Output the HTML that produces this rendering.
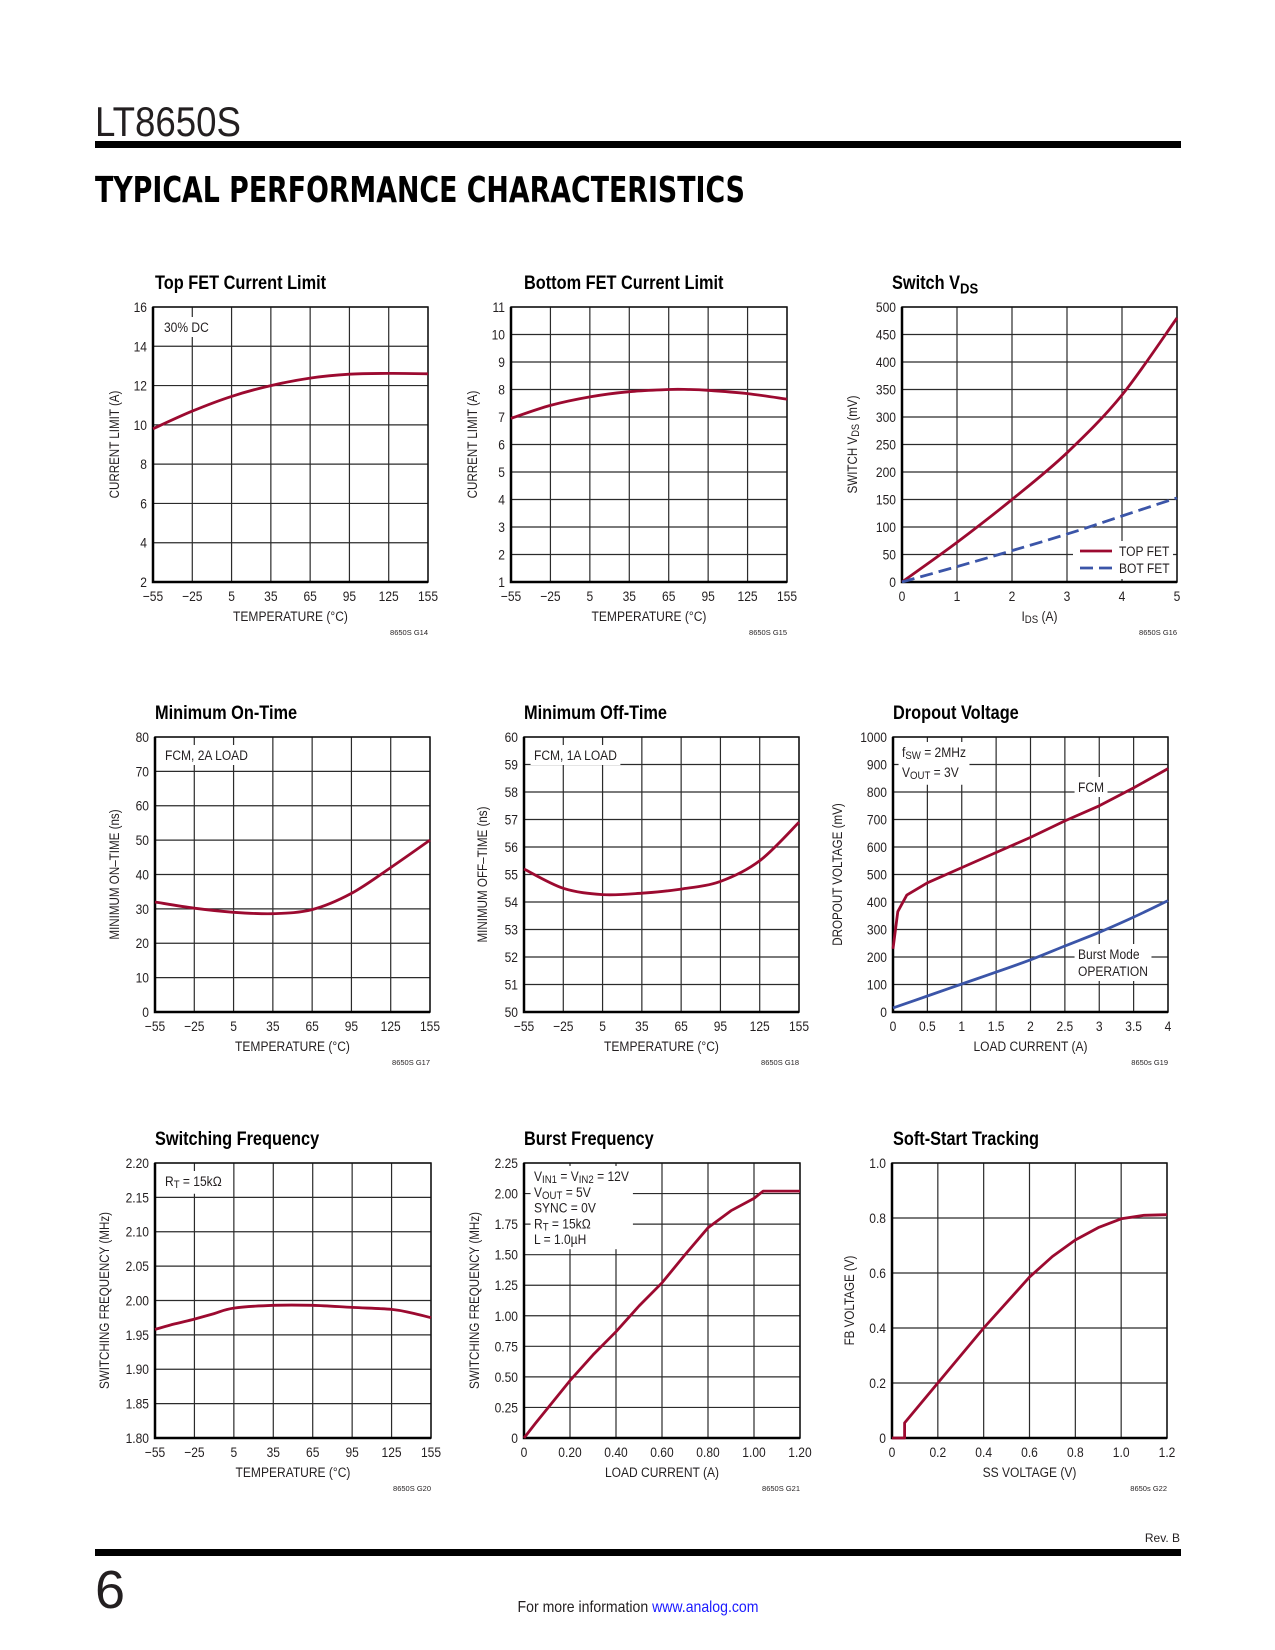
<!DOCTYPE html>
<html><head><meta charset="utf-8"><style>
html,body{margin:0;padding:0;background:#fff}
svg{display:block}
text{font-family:"Liberation Sans Narrow","Liberation Sans",sans-serif;fill:#231f20}
</style></head><body>
<svg id="page" width="1275" height="1650" viewBox="0 0 1275 1650" xmlns="http://www.w3.org/2000/svg">
<rect x="0" y="0" width="1275" height="1650" fill="#fff"/>
<text x="95" y="136" font-size="42" textLength="146" lengthAdjust="spacingAndGlyphs" style="font-weight:300">LT8650S</text>
<rect x="95" y="141" width="1086" height="7" fill="#000"/>
<text x="95" y="202" font-size="36" font-weight="bold" textLength="650" lengthAdjust="spacingAndGlyphs" style="font-family:'DejaVu Sans',sans-serif;font-weight:900;fill:#000">TYPICAL PERFORMANCE CHARACTERISTICS</text>
<text x="1180" y="1542" font-size="12" text-anchor="end">Rev. B</text>
<rect x="95" y="1549" width="1086" height="7" fill="#000"/>
<text x="95" y="1608" font-size="54" style="font-weight:300">6</text>
<text x="638" y="1612" font-size="16" text-anchor="middle" transform="translate(638,0) scale(0.88,1) translate(-638,0)">For more information <tspan fill="#1a1aff" style="fill:#1a1aff">www.analog.com</tspan></text>
<g id="charts"></g>
</svg>
<script>
// ---- chart data ----
const tempX = [-55, -25, 5, 35, 65, 95, 125, 155];
const tempTickLabels = ["\u221255", "\u221225", "5", "35", "65", "95", "125", "155"];

const topFetTemp = [-55, -25, 5, 35, 65, 95, 125, 155];
const topFetLimit = [9.8, 10.7, 11.45, 12.0, 12.38, 12.58, 12.62, 12.6];
const topFetYTicks = [2, 4, 6, 8, 10, 12, 14, 16];

const botFetTemp = [-55, -25, 5, 35, 65, 80, 95, 125, 155];
const botFetLimit = [6.95, 7.42, 7.73, 7.92, 8.0, 8.0, 7.97, 7.85, 7.65];
const botFetYTicks = [1, 2, 3, 4, 5, 6, 7, 8, 9, 10, 11];

const vdsCurrent = [0, 1, 2, 3, 4, 5];
const vdsTop = [0, 72, 150, 235, 340, 480];
const vdsBot = [0, 28, 57, 87, 120, 153];
const vdsXTicks = [0, 1, 2, 3, 4, 5];
const vdsYTicks = [0, 50, 100, 150, 200, 250, 300, 350, 400, 450, 500];

const onTimeTemp = [-55, -25, 5, 35, 65, 95, 125, 155];
const onTimeVal = [32, 30.2, 29, 28.6, 29.8, 34.5, 42, 50];
const onTimeYTicks = [0, 10, 20, 30, 40, 50, 60, 70, 80];

const offTimeTemp = [-55, -25, 5, 35, 65, 95, 125, 155];
const offTimeVal = [55.2, 54.5, 54.27, 54.32, 54.47, 54.75, 55.5, 56.9];
const offTimeYTicks = [50, 51, 52, 53, 54, 55, 56, 57, 58, 59, 60];

const dropFcmX = [0, 0.07, 0.2, 0.5, 1, 1.5, 2, 2.5, 3, 3.5, 4];
const dropFcmY = [230, 365, 425, 470, 525, 580, 635, 695, 750, 815, 885];
const dropBurstX = [0, 0.5, 1, 1.5, 2, 2.5, 3, 3.5, 4];
const dropBurstY = [15, 58, 102, 145, 190, 240, 290, 345, 405];
const dropXTicks = [0, 0.5, 1, 1.5, 2, 2.5, 3, 3.5, 4];
const dropXLabels = ["0", "0.5", "1", "1.5", "2", "2.5", "3", "3.5", "4"];
const dropYTicks = [0, 100, 200, 300, 400, 500, 600, 700, 800, 900, 1000];

const swTemp = [-55, -40, -25, -10, 5, 35, 65, 95, 125, 140, 155];
const swFreq = [1.958, 1.966, 1.973, 1.981, 1.989, 1.993, 1.993, 1.99, 1.987, 1.982, 1.975];
const swYTicks = [1.80, 1.85, 1.90, 1.95, 2.00, 2.05, 2.10, 2.15, 2.20];
const swYLabels = ["1.80", "1.85", "1.90", "1.95", "2.00", "2.05", "2.10", "2.15", "2.20"];

const burstLoad = [0, 0.05, 0.2, 0.3, 0.4, 0.5, 0.6, 0.7, 0.8, 0.9, 1.0, 1.04, 1.2];
const burstFreq = [0, 0.12, 0.47, 0.68, 0.87, 1.08, 1.27, 1.5, 1.72, 1.86, 1.96, 2.02, 2.02];
const burstXTicks = [0, 0.2, 0.4, 0.6, 0.8, 1.0, 1.2];
const burstXLabels = ["0", "0.20", "0.40", "0.60", "0.80", "1.00", "1.20"];
const burstYTicks = [0, 0.25, 0.5, 0.75, 1.0, 1.25, 1.5, 1.75, 2.0, 2.25];
const burstYLabels = ["0", "0.25", "0.50", "0.75", "1.00", "1.25", "1.50", "1.75", "2.00", "2.25"];

const ssX = [0, 0.055, 0.055, 0.2, 0.4, 0.6, 0.7, 0.8, 0.9, 1.0, 1.1, 1.2];
const ssY = [0, 0, 0.055, 0.2, 0.4, 0.585, 0.66, 0.72, 0.765, 0.797, 0.81, 0.812];
const ssXTicks = [0, 0.2, 0.4, 0.6, 0.8, 1.0, 1.2];
const ssXLabels = ["0", "0.2", "0.4", "0.6", "0.8", "1.0", "1.2"];
const ssYTicks = [0, 0.2, 0.4, 0.6, 0.8, 1.0];
const ssYLabels = ["0", "0.2", "0.4", "0.6", "0.8", "1.0"];

// ---- drawing ----
const NS = "http://www.w3.org/2000/svg";
const root = document.getElementById('charts');
const RED = "#9c0a30", BLUE = "#3b55a8", GRID = "#2b2b2b";
const SQ = 0.86;
function mk(tag, parent) { const e = document.createElementNS(NS, tag); parent.appendChild(e); return e; }
function squeeze(t, x, extra) { t.setAttribute('transform', `translate(${x},0) scale(${SQ},1) translate(${-x},0)` + (extra || '')); }
function rich(t, parts) {
  parts.forEach(p => {
    const s = document.createElementNS(NS, 'tspan');
    s.textContent = p[0];
    if (p[1] === 'sub') { s.setAttribute('baseline-shift', '-25%'); s.setAttribute('font-size', '80%'); }
    t.appendChild(s);
  });
}
function chart(name, L, T, W, H, xd, xt, xl, yd, yt, yl, title, xTitle, yTitle, yOff, code) {
  const g = mk('g', root);
  
  
  const sx = v => L + (v - xd[0]) / (xd[1] - xd[0]) * W;
  const sy = v => T + H - (v - yd[0]) / (yd[1] - yd[0]) * H;
  const grid = mk('g', g);
  
  
  xt.forEach(v => { const l = mk('line', grid); l.setAttribute('x1', sx(v)); l.setAttribute('x2', sx(v)); l.setAttribute('y1', T); l.setAttribute('y2', T + H); l.setAttribute('stroke', GRID); l.setAttribute('stroke-width', 1.2); });
  yt.forEach(v => { const l = mk('line', grid); l.setAttribute('x1', L); l.setAttribute('x2', L + W); l.setAttribute('y1', sy(v)); l.setAttribute('y2', sy(v)); l.setAttribute('stroke', GRID); l.setAttribute('stroke-width', 1.2); });
  const fr = mk('rect', g); fr.setAttribute('x', L); fr.setAttribute('y', T); fr.setAttribute('width', W); fr.setAttribute('height', H); fr.setAttribute('fill', 'none'); fr.setAttribute('stroke', '#111'); fr.setAttribute('stroke-width', 1.5);
  
  
  const ax = mk('path', g); ax.setAttribute('d', `M${L},${T} V${T + H} H${L + W}`); ax.setAttribute('fill', 'none'); ax.setAttribute('stroke', '#000'); ax.setAttribute('stroke-width', 2.5);
  
  
  xt.forEach((v, i) => { const t = mk('text', g); t.setAttribute('x', sx(v)); t.setAttribute('y', T + H + 19); t.setAttribute('font-size', 14); t.setAttribute('text-anchor', 'middle'); t.textContent = xl[i]; squeeze(t, sx(v));
    
     });
  yt.forEach((v, i) => { const t = mk('text', g); t.setAttribute('x', L - 6); t.setAttribute('y', sy(v) + 5); t.setAttribute('font-size', 14); t.setAttribute('text-anchor', 'end'); t.textContent = yl[i]; squeeze(t, L - 6);
    
     });
  const tx = L + (title[1] || 0);
  const tt = mk('text', g); tt.setAttribute('x', tx); tt.setAttribute('y', T - 18); tt.setAttribute('font-size', 19); tt.setAttribute('font-weight', 'bold'); tt.style.fill = '#000'; rich(tt, title[0]); squeeze(tt, tx);
  
  
  const xtT = mk('text', g); xtT.setAttribute('x', L + W / 2); xtT.setAttribute('y', T + H + 39); xtT.setAttribute('font-size', 14); xtT.setAttribute('text-anchor', 'middle'); rich(xtT, xTitle); squeeze(xtT, L + W / 2);
  
  
  const ytT = mk('text', g); const cx = L - yOff, cy = T + H / 2; ytT.setAttribute('x', cx); ytT.setAttribute('y', cy); ytT.setAttribute('font-size', 13.5); ytT.setAttribute('text-anchor', 'middle'); ytT.setAttribute('transform', `rotate(-90 ${cx} ${cy}) translate(${cx},0) scale(${SQ},1) translate(${-cx},0)`); rich(ytT, yTitle);
  
  
  const cd = mk('text', g); cd.setAttribute('x', L + W); cd.setAttribute('y', T + H + 53); cd.setAttribute('font-size', 7.5); cd.setAttribute('text-anchor', 'end'); cd.textContent = code;
  
  
  return { g, sx, sy, L, T, W, H };
}
function series(c, xs, ys, color, dash, name, smooth) {
  const pts = xs.map((x, i) => [c.sx(x), c.sy(ys[i])]);
  let d = 'M' + pts[0][0].toFixed(1) + ',' + pts[0][1].toFixed(1);
  for (let i = 0; i < pts.length - 1; i++) {
    if (smooth) {
      const p0 = pts[Math.max(0, i - 1)], p1 = pts[i], p2 = pts[i + 1], p3 = pts[Math.min(pts.length - 1, i + 2)];
      const c1x = p1[0] + (p2[0] - p0[0]) / 6, c1y = p1[1] + (p2[1] - p0[1]) / 6;
      const c2x = p2[0] - (p3[0] - p1[0]) / 6, c2y = p2[1] - (p3[1] - p1[1]) / 6;
      d += ` C${c1x.toFixed(1)},${c1y.toFixed(1)} ${c2x.toFixed(1)},${c2y.toFixed(1)} ${p2[0].toFixed(1)},${p2[1].toFixed(1)}`;
    } else d += ' L' + pts[i + 1][0].toFixed(1) + ',' + pts[i + 1][1].toFixed(1);
  }
  const p = mk('path', c.g);
  p.setAttribute('d', d);
  p.setAttribute('fill', 'none'); p.setAttribute('stroke', color); p.setAttribute('stroke-width', 2.8); p.setAttribute('stroke-linejoin', 'round');
  if (dash) p.setAttribute('stroke-dasharray', '13,6');
  
  
}
function note(c, lines, dx, dy, lh, name) {
  const g = mk('g', c.g);
  
  
  const bg = mk('rect', g); bg.setAttribute('fill', '#fff');
  const x = c.L + dx;
  const ts = lines.map((ln, i) => { const t = mk('text', g); t.setAttribute('x', x); t.setAttribute('y', c.T + dy + i * lh); t.setAttribute('font-size', 14); rich(t, ln); return t; });
  let x0 = 1e9, y0 = 1e9, x1 = -1e9, y1 = -1e9;
  ts.forEach(t => { const b = t.getBBox(); x0 = Math.min(x0, b.x); y0 = Math.min(y0, b.y); x1 = Math.max(x1, b.x + b.width); y1 = Math.max(y1, b.y + b.height); });
  bg.setAttribute('x', x0 - 4); bg.setAttribute('y', y0 - 2); bg.setAttribute('width', x1 - x0 + 8); bg.setAttribute('height', y1 - y0 + 4);
  g.setAttribute('transform', `translate(${x},0) scale(${SQ},1) translate(${-x},0)`);
}
const TX = [['TEMPERATURE (\u00B0C)']];
const nums = a => a.map(String);

let c1 = chart('top-fet-current-limit-chart', 153, 307, 275, 275, [-55, 155], tempX, tempTickLabels, [2, 16], topFetYTicks, nums(topFetYTicks), [[['Top FET Current Limit']], 2], TX, [['CURRENT LIMIT (A)']], 34, '8650S G14');
note(c1, [[['30% DC']]], 11, 25, 16, 'condition-note');
series(c1, topFetTemp, topFetLimit, RED, false, 'current-limit-curve', true);

let c2 = chart('bottom-fet-current-limit-chart', 511, 307, 276, 275, [-55, 155], tempX, tempTickLabels, [1, 11], botFetYTicks, nums(botFetYTicks), [[['Bottom FET Current Limit']], 13], TX, [['CURRENT LIMIT (A)']], 34, '8650S G15');
series(c2, botFetTemp, botFetLimit, RED, false, 'current-limit-curve', true);

let c3 = chart('switch-vds-chart', 902, 307, 275, 275, [0, 5], vdsXTicks, nums(vdsXTicks), [0, 500], vdsYTicks, nums(vdsYTicks), [[['Switch V'], ['DS', 'sub']], -10], [['I'], ['DS', 'sub'], [' (A)']], [['SWITCH V'], ['DS', 'sub'], [' (mV)']], 45, '8650S G16');
series(c3, vdsCurrent, vdsTop, RED, false, 'top-fet-line', true);
series(c3, vdsCurrent, vdsBot, BLUE, true, 'bot-fet-line', true);
(function () {
  const g = mk('g', c3.g);
  
  
  const r = mk('rect', g); r.setAttribute('x', 1073); r.setAttribute('y', 541); r.setAttribute('width', 100); r.setAttribute('height', 38); r.setAttribute('fill', '#fff');
  const l1 = mk('line', g); l1.setAttribute('x1', 1080); l1.setAttribute('x2', 1112); l1.setAttribute('y1', 551); l1.setAttribute('y2', 551); l1.setAttribute('stroke', RED); l1.setAttribute('stroke-width', 2.8);
  
  
  const l2 = mk('line', g); l2.setAttribute('x1', 1080); l2.setAttribute('x2', 1112); l2.setAttribute('y1', 568); l2.setAttribute('y2', 568); l2.setAttribute('stroke', BLUE); l2.setAttribute('stroke-width', 2.8); l2.setAttribute('stroke-dasharray', '13,6');
  
  
  const t1 = mk('text', g); t1.setAttribute('x', 1119); t1.setAttribute('y', 556); t1.setAttribute('font-size', 14); t1.textContent = 'TOP FET'; squeeze(t1, 1119);
  const t2 = mk('text', g); t2.setAttribute('x', 1119); t2.setAttribute('y', 573); t2.setAttribute('font-size', 14); t2.textContent = 'BOT FET'; squeeze(t2, 1119);
})();

let c4 = chart('minimum-on-time-chart', 155, 737, 275, 275, [-55, 155], tempX, tempTickLabels, [0, 80], onTimeYTicks, nums(onTimeYTicks), [[['Minimum On-Time']], 0], TX, [['MINIMUM ON\u2013TIME (ns)']], 36, '8650S G17');
note(c4, [[['FCM, 2A LOAD']]], 10, 23, 16, 'condition-note');
series(c4, onTimeTemp, onTimeVal, RED, false, 'on-time-curve', true);

let c5 = chart('minimum-off-time-chart', 524, 737, 275, 275, [-55, 155], tempX, tempTickLabels, [50, 60], offTimeYTicks, nums(offTimeYTicks), [[['Minimum Off-Time']], 0], TX, [['MINIMUM OFF\u2013TIME (ns)']], 37, '8650S G18');
note(c5, [[['FCM, 1A LOAD']]], 10, 23, 16, 'condition-note');
series(c5, offTimeTemp, offTimeVal, RED, false, 'off-time-curve', true);

let c6 = chart('dropout-voltage-chart', 893, 737, 275, 275, [0, 4], dropXTicks, dropXLabels, [0, 1000], dropYTicks, nums(dropYTicks), [[['Dropout Voltage']], 0], [['LOAD CURRENT (A)']], [['DROPOUT VOLTAGE (mV)']], 51, '8650s G19');
note(c6, [[['f'], ['SW', 'sub'], [' = 2MHz']], [['V'], ['OUT', 'sub'], [' = 3V']]], 9, 20, 20, 'condition-note');
note(c6, [[['FCM']]], 185, 55, 16, 'fcm-label');
note(c6, [[['Burst Mode']], [['OPERATION']]], 185, 222, 17, 'burst-mode-label');
series(c6, dropFcmX, dropFcmY, RED, false, 'fcm-curve', false);
series(c6, dropBurstX, dropBurstY, BLUE, false, 'burst-mode-curve', true);

let c7 = chart('switching-frequency-chart', 155, 1163, 276, 275, [-55, 155], tempX, tempTickLabels, [1.8, 2.2], swYTicks, swYLabels, [[['Switching Frequency']], 0], TX, [['SWITCHING FREQUENCY (MHz)']], 46, '8650S G20');
note(c7, [[['R'], ['T', 'sub'], [' = 15k\u03A9']]], 10, 23, 16, 'condition-note');
series(c7, swTemp, swFreq, RED, false, 'frequency-curve', true);

let c8 = chart('burst-frequency-chart', 524, 1163, 276, 275, [0, 1.2], burstXTicks, burstXLabels, [0, 2.25], burstYTicks, burstYLabels, [[['Burst Frequency']], 0], [['LOAD CURRENT (A)']], [['SWITCHING FREQUENCY (MHz)']], 45, '8650S G21');
note(c8, [[['V'], ['IN1', 'sub'], [' = V'], ['IN2', 'sub'], [' = 12V']], [['V'], ['OUT', 'sub'], [' = 5V']], [['SYNC = 0V']], [['R'], ['T', 'sub'], [' = 15k\u03A9']], [['L = 1.0\u00B5H']]], 10, 18, 15.8, 'condition-note');
series(c8, burstLoad, burstFreq, RED, false, 'burst-frequency-curve', false);

let c9 = chart('soft-start-tracking-chart', 892, 1163, 275, 275, [0, 1.2], ssXTicks, ssXLabels, [0, 1.0], ssYTicks, ssYLabels, [[['Soft-Start Tracking']], 1], [['SS VOLTAGE (V)']], [['FB VOLTAGE (V)']], 38, '8650s G22');
series(c9, ssX, ssY, RED, false, 'fb-voltage-curve', false);
</script>
</body></html>
